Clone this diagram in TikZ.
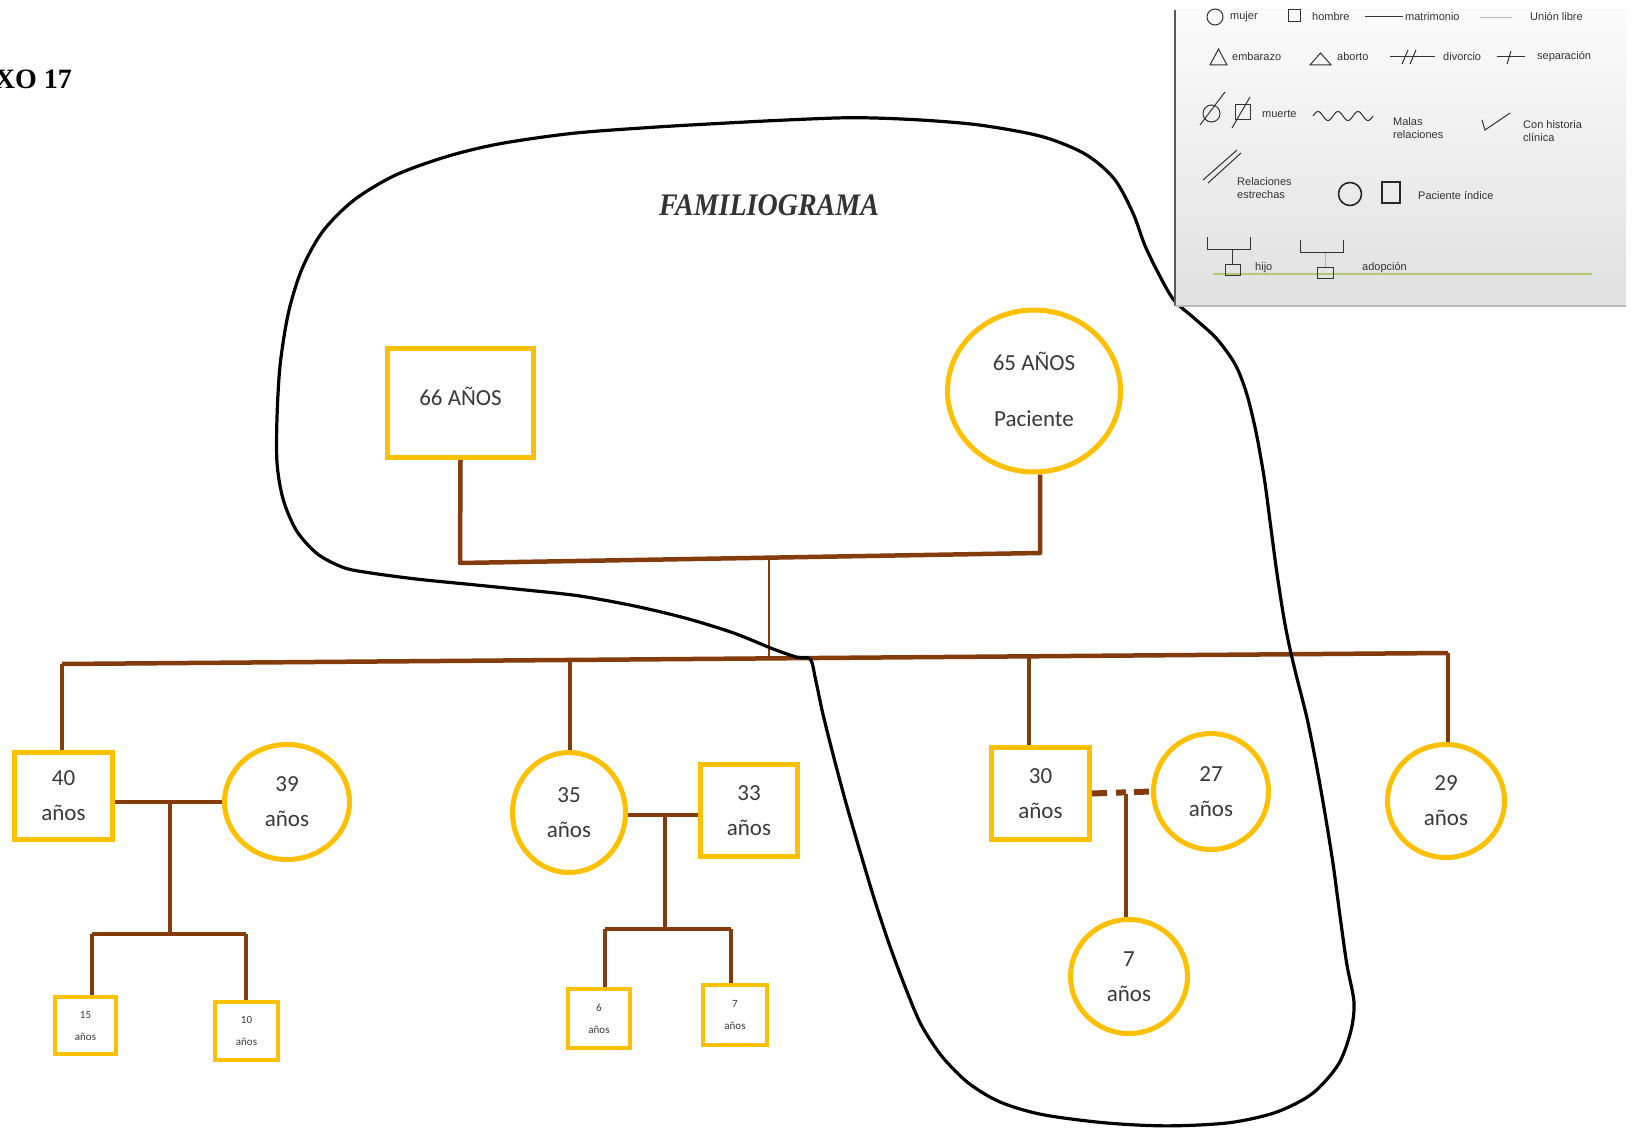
\documentclass[tikz,border=0pt]{standalone}
\usepackage{fontspec}
\setmainfont{Liberation Serif}
\newfontfamily\calib{Carlito}
\newfontfamily\arialf{Liberation Sans}
\usetikzlibrary{shapes.geometric,calc}
\definecolor{gold}{HTML}{FFC000}
\definecolor{brn}{HTML}{843C0C}
\definecolor{txtg}{HTML}{3A3A3A}
\definecolor{lggreen}{HTML}{B3CB6E}
\begin{document}
\begin{tikzpicture}[x=1pt,y=-1pt,
  malebox/.style={draw=gold, line width=5pt, rectangle, fill=white, text=txtg,
    font=\calib\fontsize{23}{35}\selectfont, align=center, inner sep=0pt},
  femcirc/.style={draw=gold, line width=5pt, ellipse, fill=white, text=txtg,
    font=\calib\fontsize{23}{35}\selectfont, align=center, inner sep=0pt},
  kidbox/.style={draw=gold, line width=4pt, rectangle, fill=white, text=txtg,
    font=\calib\fontsize{11}{22}\selectfont, align=center, inner sep=0pt},
  rel/.style={draw=brn, line width=4.5pt},
  relthin/.style={draw=brn, line width=2.2pt},
  relmid/.style={draw=brn, line width=3.5pt},
  lasso/.style={draw=black, line width=3.2pt, line join=round},
  lg/.style={font=\arialf\fontsize{11}{13}\selectfont, text=black!80, anchor=west, inner sep=0pt, align=left},
  lgl/.style={draw=black!80, line width=1pt},
]
\useasboundingbox (0,0) rectangle (1633,1131);
\fill[white] (0,0) rectangle (1633,1131);

% ---------- title texts ----------
\begin{scope}
\clip (0,0) rectangle (1633,1131);
\node[font=\bfseries\fontsize{28}{30}\selectfont, anchor=base east, inner sep=0pt] (anexo) at (72,89) {ANEXO 17};
\end{scope}
\node[font=\bfseries\itshape\fontsize{28}{30}\selectfont, text=black!80, yscale=1.12] (title) at (769,205) {FAMILIOGRAMA};

% ---------- persons ----------
\node[malebox, minimum width=146pt, minimum height=109pt] (m66) at (460.5,403) {\raisebox{14pt}{66 AÑOS}};
\node[femcirc, minimum width=173pt, minimum height=162pt, font=\calib\fontsize{23}{56}\selectfont] (f65) at (1034,391) {\raisebox{3pt}{65 AÑOS}\\\raisebox{3pt}{Paciente}};

\node[malebox, minimum width=98pt, minimum height=87pt] (c40) at (63.5,796) {40\\años};
\node[femcirc, minimum width=125pt, minimum height=115pt] (s39) at (287,802) {39\\años};
\node[femcirc, minimum width=113pt, minimum height=120pt] (c35) at (569,812.5) {35\\años};
\node[malebox, minimum width=97pt, minimum height=92pt] (s33) at (749,810.5) {33\\años};
\node[malebox, minimum width=98pt, minimum height=92pt] (c30) at (1040.5,793.5) {30\\años};
\node[femcirc, minimum width=115pt, minimum height=116pt] (s27) at (1211,791.5) {27\\años};
\node[femcirc, minimum width=117pt, minimum height=113pt] (c29) at (1446,801) {29\\años};

\node[kidbox, minimum width=61pt, minimum height=57pt] (g15) at (85.5,1025.5) {15\\años};
\node[kidbox, minimum width=63pt, minimum height=58pt] (g10) at (246.5,1031) {10\\años};
\node[kidbox, minimum width=62pt, minimum height=59pt] (g6) at (599,1018.5) {6\\años};
\node[kidbox, minimum width=64pt, minimum height=60pt] (g7) at (735,1015) {7\\años};
\node[femcirc, minimum width=117pt, minimum height=114pt] (g7c) at (1129,976.5) {7\\años};

% ---------- connectors ----------
\coordinate (pL) at (460,563);
\coordinate (pR) at (1040,553);
\draw[rel, line join=round] (m66.south) -- (pL) -- (pR) -- (pR |- f65.south);
\coordinate (cm) at (769,559);
\coordinate (cmb) at (769,658);
\draw[relthin] (cm) -- (cmb);

\coordinate (sL) at (62,664);
\coordinate (sR) at (1448,653);
\coordinate (d35) at (570,660);
\coordinate (d30) at (1029,656.3);
\draw[rel] (sL) -- (sR);
\draw[rel] (sL) -- (sL |- c40.north);
\draw[rel] (d35) -- (d35 |- c35.north);
\draw[relmid] (d30) -- (d30 |- c30.north);
\draw[rel] (sR) -- (sR |- c29.north);

% 40 - 39
\draw[relmid] (c40.east |- s39.west) -- (s39.west);
\coordinate (k1) at (170,802);
\coordinate (k2) at (170,934);
\coordinate (kL) at (92,934);
\coordinate (kR) at (246,934);
\draw[relmid] (k1) -- (k2);
\draw[relmid] (kL) -- (kR);
\draw[relmid] (kL) -- (kL |- g15.north);
\draw[relmid] (kR) -- (kR |- g10.north);

% 35 - 33
\coordinate (j1) at (665,815);
\coordinate (j2) at (665,929);
\coordinate (jL) at (605,929);
\coordinate (jR) at (731,929);
\draw[relmid] (c35.east |- j1) -- (s33.west |- j1);
\draw[rel] (j1) -- (j2);
\draw[relmid] (jL) -- (jR);
\draw[relmid] (jL) -- (jL |- g6.north);
\draw[relmid] (jR) -- (jR |- g7.north);

% 30 - 27 (union libre)
\draw[draw=brn, line width=6pt, dash pattern=on 15pt off 9pt on 10pt off 8pt] (c30.east) -- (s27.west);
\coordinate (u1) at (1126,794);
\draw[relmid] (u1) -- (u1 |- g7c.north);

% ---------- hand drawn outline ----------
\begin{scope}[scale=1.0415]
\draw[lasso] plot[smooth cycle, tension=0.5] coordinates {
(778,633) (783,652) (790,685) (800,725) (812,770) (825,815) (840,865) (855,910)
(870,950) (885,985) (905,1015) (930,1040) (960,1058) (1000,1070) (1060,1078)
(1120,1081) (1180,1078) (1225,1068) (1260,1050) (1285,1022) (1297,990) (1300,962)
(1293,925) (1286,875) (1280,830) (1272,780) (1264,735) (1255,690) (1245,650)
(1239,625) (1233,595) (1226,550) (1220,505) (1214,460) (1206,415) (1197,378)
(1186,350) (1168,325) (1146,305) (1127,288) (1112,262) (1099,235) (1088,205)
(1070,172) (1042,148) (1000,131) (940,120) (880,115) (820,113) (760,115) (700,118) (630,122)
(550,128) (480,138) (430,150) (380,168) (340,192) (310,222) (290,258) (277,300)
(269,350) (266,400) (266,445) (272,480) (285,510) (305,532) (330,545) (355,550)
(400,556) (450,561) (500,566) (555,572) (610,582) (660,594) (705,608) (742,623)
(765,631)};
\end{scope}

% ---------- legend ----------
\shade[top color=gray!3, bottom color=gray!24] (1175,10) rectangle (1626,306);
\draw[black!65, line width=1.5pt] (1175,10) -- (1175,306);
\draw[gray!55, line width=1.2pt] (1175,306) -- (1626,306);

% row 1
\draw[lgl] (1215,17) circle[radius=8];
\node[lg] (l1) at (1230,17) {mujer};
\draw[lgl] (1288,10) rectangle (1300,22);
\node[lg] (l2) at (1312,17) {hombre};
\draw[lgl] (1365,17) -- (1403,17);
\node[lg] (l3) at (1405,17) {matrimonio};
\draw[gray!55, line width=0.6pt] (1480,17) -- (1512,17);
\node[lg] (l4) at (1530,17) {Unión libre};
% row 2
\draw[lgl] (1210,65) -- (1227,65) -- (1218.5,49) -- cycle;
\node[lg] (l5) at (1232,57) {embarazo};
\draw[lgl] (1310,65) -- (1331,65) -- (1320.5,53) -- cycle;
\node[lg] (l6) at (1337,57) {aborto};
\draw[lgl] (1390,57) -- (1435,57);
\draw[lgl] (1402,64) -- (1408,50);
\draw[lgl] (1410,64) -- (1416,50);
\node[lg] (l7) at (1443,57) {divorcio};
\draw[lgl] (1497,57) -- (1525,57);
\draw[lgl] (1507,64) -- (1511,51);
\node[lg] (l8) at (1537,57) {separación};
% row 3
\draw[lgl] (1211.5,113.5) circle[radius=8.5];
\draw[lgl] (1200,125) -- (1225,92);
\draw[lgl] (1235,105) rectangle (1250,120);
\draw[lgl] (1232,128) -- (1250,97);
\node[lg] (l9) at (1262,114) {muerte};
\draw[lgl] plot[domain=0:60, samples=80, smooth] ({1313+\x},{116-4.5*sin(\x*18)});
\node[lg] (l10) at (1393,128.5) {Malas\\relaciones};
\draw[lgl] (1482,120) -- (1485,130) -- (1510,113);
\node[lg] (l11) at (1523,131.5) {Con historia\\clínica};
% row 4
\draw[lgl] (1203,180) -- (1237,150);
\draw[lgl] (1208,183) -- (1241,153);
\node[lg] (l12) at (1237,188.5) {Relaciones\\estrechas};
\draw[black!85, line width=1.6pt] (1350,194) circle[radius=11.5];
\draw[black!85, line width=1.6pt] (1382,182) rectangle (1400,203);
\node[lg] (l13) at (1418,196) {Paciente índice};
% row 5
\draw[lggreen, line width=1.6pt] (1213,274) -- (1592,274);
\draw[lgl] (1207,237) -- (1207,250) -- (1250,250) -- (1250,237);
\draw[lgl] (1232,250) -- (1232,265);
\draw[lgl] (1225,265) rectangle (1240,276);
\node[lg] (l14) at (1255,268) {hijo};
\draw[lgl] (1300,240) -- (1300,253) -- (1343,253) -- (1343,240);
\draw[gray!60, line width=0.8pt] (1325,253) -- (1325,268);
\draw[lgl] (1317,268) rectangle (1333,279);
\node[lg] (l15) at (1362,268) {adopción};
\end{tikzpicture}
\end{document}
